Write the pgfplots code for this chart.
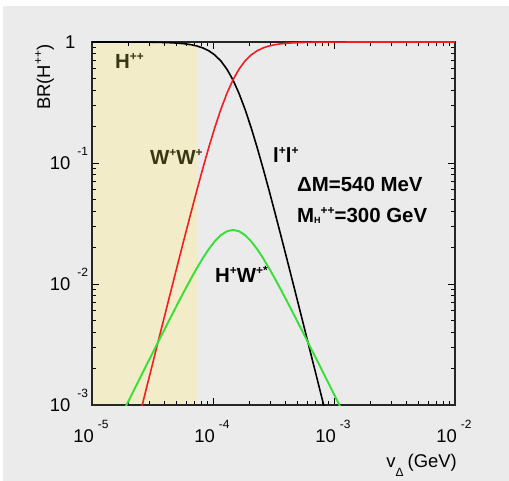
\documentclass[border=0pt]{standalone}
\usepackage{fontspec}
\setmainfont{Liberation Sans}
\usepackage{pgfplots}
\pgfplotsset{compat=1.18}
\usepackage{pgfplotstable}

\definecolor{panelgray}{HTML}{EBEBEB}
\definecolor{khaki}{HTML}{F2ECC8}
\definecolor{olive}{HTML}{3A3614}
\definecolor{brred}{HTML}{F02020}
\definecolor{brgreen}{HTML}{36E036}

\newcommand\tickfont{\fontsize{18.5}{18.5}\selectfont}
\newcommand\expfont{\fontsize{12}{12}\selectfont}
\newcommand\labfont{\fontsize{20.5}{20.5}\selectfont\bfseries}
\newcommand\xlab[1]{\smash{\makebox[0pt][r]{\tickfont 10}\makebox[0pt][l]{\kern4bp\raisebox{14bp}{\expfont #1}}}}
\newcommand\ylab[1]{\smash{\makebox[0pt][r]{\tickfont 10}\makebox[0pt][l]{\kern7bp\raisebox{14bp}{\expfont #1}}}}
\newcommand\yone{\smash{\makebox[0pt][r]{\tickfont 1\kern-5bp}}}
\newcommand\sups[1]{\raisebox{8.5bp}{\fontsize{12}{12}\selectfont\bfseries #1}}

% branching ratios of the doubly charged scalar versus v_Delta
\pgfplotstableread{
x          ll        ww        hw
9.226e-6   0.99976   1.585e-5  2.292e-4
1.1614e-5  0.99960   3.980e-5  3.633e-4
1.4622e-5  0.99932   9.993e-5  5.756e-4
1.8408e-5  0.99884   2.509e-4  9.118e-4
2.3174e-5  0.99793   6.297e-4  1.4439e-3
2.9174e-5  0.99614   1.5788e-3 2.2842e-3
3.6728e-5  0.99244   3.9510e-3 3.6068e-3
4.1210e-5  0.98923   6.2417e-3 4.5260e-3
4.6238e-5  0.98448   9.845e-3  5.671e-3
5.1880e-5  0.97742   0.015491  7.0877e-3
5.8210e-5  0.96689   0.024287  8.827e-3
6.5313e-5  0.95120   0.037868  0.010932
7.3282e-5  0.92802   0.058554  0.013427
8.2224e-5  0.89428   0.089428  0.016289
9.2257e-5  0.84644   0.13415   0.019410
1.0351e-4  0.78121   0.19623   0.022552
1.1614e-4  0.69713   0.27754   0.025336
1.3032e-4  0.59640   0.37631   0.027287
1.4622e-4  0.48601   0.48601   0.027994
1.6406e-4  0.37631   0.59640   0.027287
1.8408e-4  0.27754   0.69713   0.025336
2.0654e-4  0.19623   0.78121   0.022552
2.3174e-4  0.13415   0.84644   0.019410
2.6002e-4  0.089428  0.89428   0.016289
2.9174e-4  0.058554  0.92802   0.013427
3.2734e-4  0.037868  0.95120   0.010932
3.6728e-4  0.024287  0.96689   8.827e-3
4.1210e-4  0.015491  0.97742   7.0877e-3
4.6238e-4  9.845e-3  0.98448   5.671e-3
5.1880e-4  6.2417e-3 0.98923   4.5260e-3
5.8210e-4  3.9510e-3 0.99244   3.6068e-3
7.3282e-4  1.5788e-3 0.99614   2.2842e-3
9.2257e-4  6.297e-4  0.99793   1.4439e-3
1.1614e-3  2.509e-4  0.99884   9.118e-4
1.4622e-3  9.993e-5  0.99932   5.756e-4
1.8408e-3  3.980e-5  0.99960   3.633e-4
2.3174e-3  1.585e-5  0.99976   2.292e-4
1.0e-2     1.0e-7    0.99999   1.2e-5
}\brtable

\begin{document}
\begin{tikzpicture}
\fill[white] (0,0) rectangle (509bp,481bp);
\fill[panelgray] (3bp,0) rectangle (509bp,475bp);

% frame, ticks and the shaded band
\begin{axis}[
  at={(92bp,76bp)}, anchor=south west,
  width=363bp, height=363bp, scale only axis,
  xmode=log, ymode=log,
  xmin=1e-5, xmax=1e-2, ymin=1e-3, ymax=1,
  axis on top,
  xtick={1e-5,1e-4,1e-3,1e-2},
  ytick={1e-3,1e-2,1e-1,1},
  xticklabels={\xlab{-5},\xlab{-4},\xlab{-3},\xlab{-2}},
  yticklabels={\ylab{-3},\ylab{-2},\ylab{-1},\yone},
  xticklabel style={anchor=base, inner sep=0pt, yshift=-37bp, xshift=2bp},
  yticklabel style={anchor=base east, inner sep=0pt, xshift=-21bp, yshift=-6.5bp},
  tick align=inside, tick pos=both,
  major tick length=7bp, minor tick length=4bp,
  every tick/.style={black, line width=0.8bp},
  axis line style={line width=1.2bp, black!85},
]
\addplot[fill=khaki, draw=none]
  coordinates {(1e-5,1e-3) (7.5e-5,1e-3) (7.5e-5,1) (1e-5,1)} -- cycle;
\end{axis}

% the three decay channels
\begin{axis}[
  at={(92bp,76bp)}, anchor=south west,
  width=363bp, height=363bp, scale only axis,
  xmode=log, ymode=log,
  xmin=1e-5, xmax=1e-2, ymin=1e-3, ymax=1,
  hide axis,
]
\addplot[black, line width=1.6bp] table[x=x, y=ll] {\brtable};
\addplot[brred, line width=1.6bp] table[x=x, y=ww] {\brtable};
\addplot[brgreen, line width=1.9bp] table[x=x, y=hw] {\brtable};
\end{axis}

% channel labels and parameters
\begin{scope}[every node/.style={inner sep=0pt}]
\node[anchor=base west, text=olive] at (115bp,412bp) {\labfont H\sups{++}};
\node[anchor=base west, text=olive] at (150bp,316bp) {\labfont W\sups{+}W\sups{+}};
\node[anchor=base west] at (273bp,318bp) {\labfont l\sups{+}l\sups{+}};
\node[anchor=base west] at (297bp,289bp) {\labfont ΔM=540 MeV};
\node[anchor=base west] at (297bp,258bp) {\labfont M\raisebox{-1bp}{\fontsize{9}{9}\selectfont\bfseries H}\sups{++}=300 GeV};
\node[anchor=base west] at (215bp,198bp) {\labfont H\sups{+}W\sups{+*}};

% axis titles
\node[anchor=base west, rotate=90] at (50bp,371bp)
  {\tickfont BR(H\raisebox{8bp}{\fontsize{12}{12}\selectfont ++})};
\node[anchor=base east] at (457bp,14bp)
  {\tickfont v\raisebox{-9bp}{\fontsize{12}{12}\selectfont Δ}\hspace{4bp}(GeV)};
\end{scope}
\pgfresetboundingbox
\path (0,0) rectangle (509bp,481bp);
\end{tikzpicture}
\end{document}
